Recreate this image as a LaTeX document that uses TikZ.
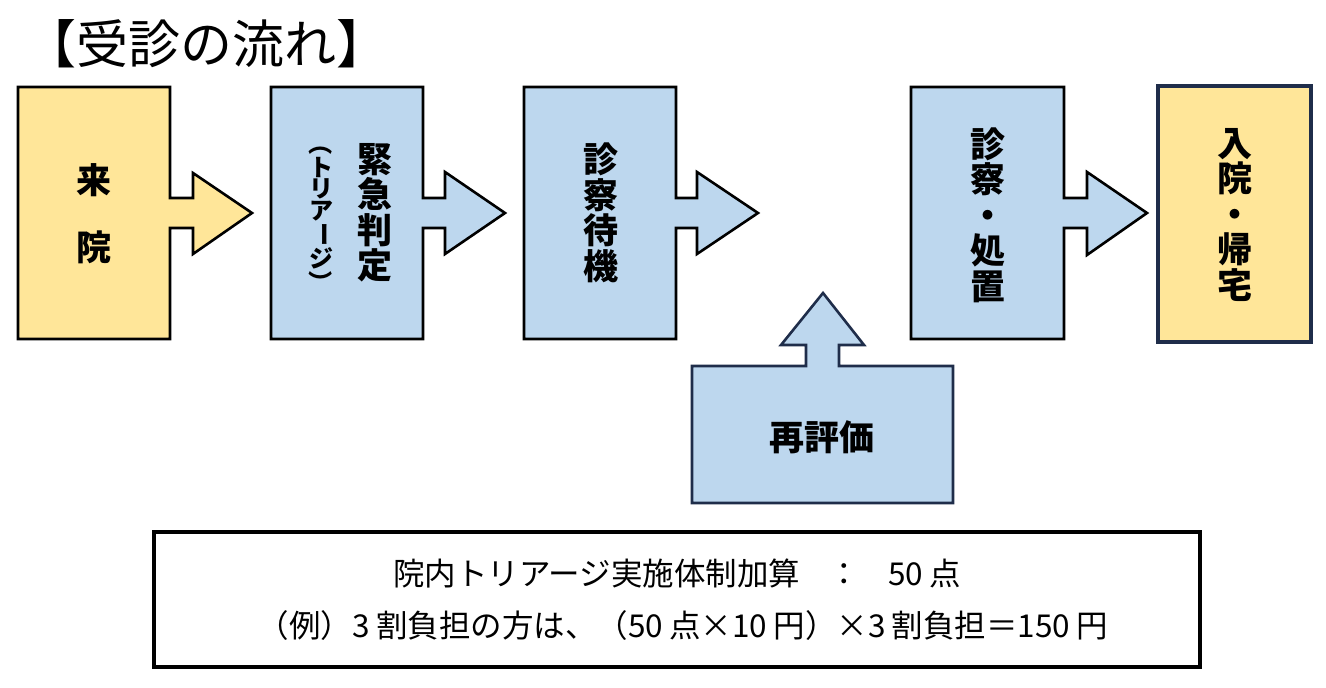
\documentclass[tikz,border=0pt]{standalone}
\usepackage{fontspec}
\usepackage{graphicx}
\newfontfamily\jp{Noto Sans CJK JP}
\definecolor{yfill}{HTML}{FFE699}
\definecolor{bfill}{HTML}{BDD7EE}
\definecolor{navy}{HTML}{1F2D4A}
\newcommand{\vrot}[1]{\rotatebox[origin=c]{-90}{#1}}
\tikzset{
  flowshape/.style={line width=2.6pt, line join=miter, draw=black},
  vtext/.style={font=\jp\bfseries\fontsize{35}{35.5}\selectfont, align=center, inner sep=0pt},
  ntext/.style={font=\jp\fontsize{31.5}{31.5}\selectfont, inner sep=0pt},
}
\begin{document}
\begin{tikzpicture}[x=1pt,y=-1pt]
\useasboundingbox (0,0) rectangle (1326,688);
% title
\node[font=\jp\fontsize{52}{52}\selectfont, anchor=west, inner sep=0pt] (title) at (24,44) {【受診の流れ】};
% shape 1
\draw[flowshape, fill=yfill] (18,87) -- (170,87) -- (170,198) -- (193,198) -- (193,173) -- (252,213) -- (193,254) -- (193,228) -- (170,228) -- (170,339) -- (18,339) -- cycle;
\node[vtext, font=\jp\bfseries\fontsize{35}{67}\selectfont] (raiin) at (94,214) {来\\院};
% shape 2
\draw[flowshape, fill=bfill] (271,87) -- (423,87) -- (423,198) -- (445,198) -- (445,172) -- (505,213) -- (445,254) -- (445,228) -- (423,228) -- (423,339) -- (271,339) -- cycle;
\node[vtext] (kinkyu) at (375,213) {緊\\急\\判\\定};
\node[vtext, font=\jp\bfseries\fontsize{24}{21.5}\selectfont] (triage) at (321,213) {\vrot{（}\\ト\\リ\\ア\\\vrot{ー}\\ジ\\\vrot{）}};
% shape 3
\draw[flowshape, fill=bfill] (524,87) -- (676,87) -- (676,198) -- (697,198) -- (697,172) -- (758,213) -- (697,254) -- (697,228) -- (676,228) -- (676,339) -- (524,339) -- cycle;
\node[vtext] (machi) at (601,213) {診\\察\\待\\機};
% shape 4
\draw[flowshape, fill=bfill] (911,87) -- (1064,87) -- (1064,198) -- (1087,198) -- (1087,172) -- (1147,213) -- (1087,255) -- (1087,228) -- (1064,228) -- (1064,339) -- (911,339) -- cycle;
\node[vtext] (shochi) at (988,215) {診\\察\\・\\処\\置};
% shape 5
\draw[line width=3.4pt, draw=navy, fill=yfill] (1158,86) rectangle (1311,342);
\node[vtext] (nyuin) at (1235,215) {入\\院\\・\\帰\\宅};
% re-evaluation
\draw[line width=2.6pt, draw=navy, fill=bfill, line join=miter] (692,366) -- (806,366) -- (806,345) -- (781,345) -- (823,293) -- (864,345) -- (839,345) -- (839,366) -- (953,366) -- (953,503) -- (692,503) -- cycle;
\node[vtext] (saihyoka) at (822,437) {再評価};
% bottom box
\draw[line width=3.2pt, draw=black] (154,532) rectangle (1200,667);
\node[ntext] (line1) at (677,573) {院内トリアージ実施体制加算\hspace{0.9em}：\hspace{0.9em}50\hspace{0.2em}点};
\node[ntext] (line2) at (683,626) {（例）3\hspace{0.2em}割負担の方は、（50\hspace{0.2em}点×10\hspace{0.2em}円）×3\hspace{0.2em}割負担＝150\hspace{0.2em}円};
\end{tikzpicture}
\end{document}
